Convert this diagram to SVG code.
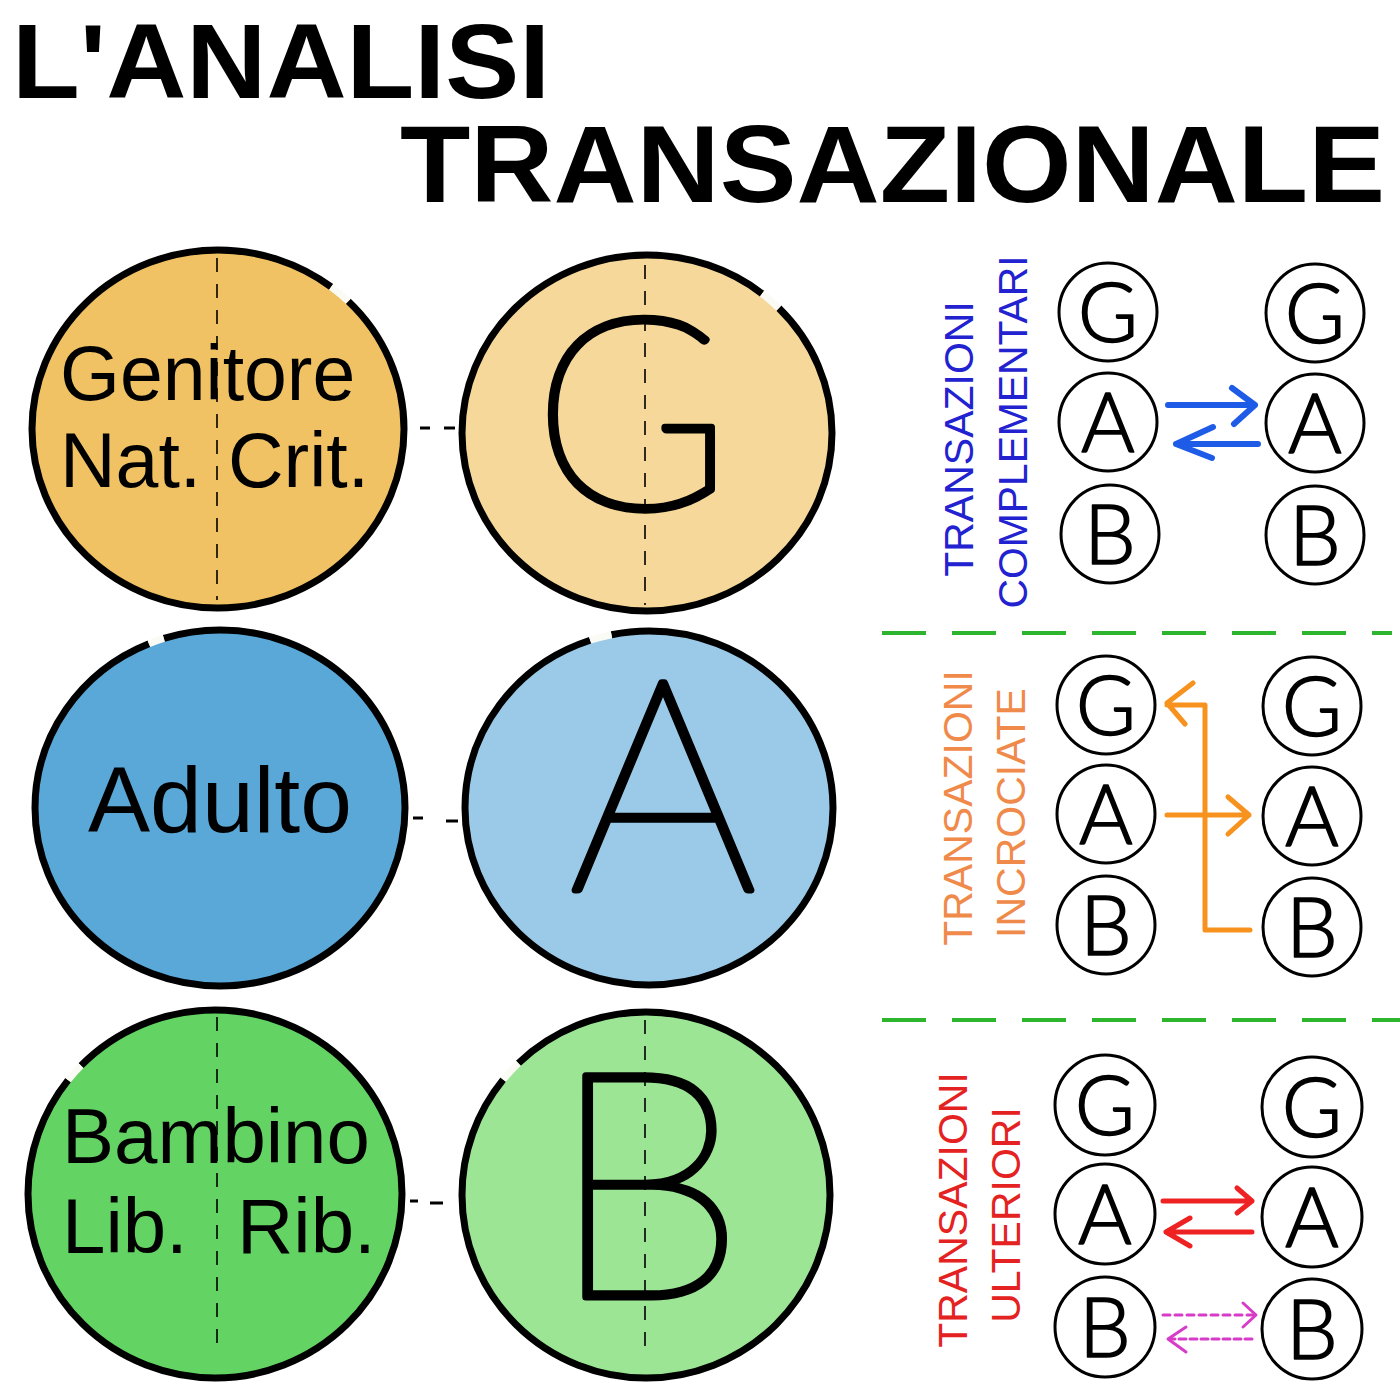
<svg xmlns="http://www.w3.org/2000/svg" width="1400" height="1400" viewBox="0 0 1400 1400">
<style>
.title{font-family:"Liberation Sans",Arial,sans-serif;font-weight:bold;fill:#000}
.lbl{font-family:"Liberation Sans",Arial,sans-serif;fill:#000}
.big{font-family:Lato,Inter,"DejaVu Sans",sans-serif;font-weight:200;fill:#000;stroke:#000;stroke-width:7;stroke-linejoin:round;text-anchor:middle}
.sm{font-family:Lato,Inter,"DejaVu Sans",sans-serif;font-weight:300;font-size:82px;fill:#000;stroke:#000;stroke-width:1.6;stroke-linejoin:round;text-anchor:middle}
.ring{stroke:#000;stroke-width:7}
.gap{fill:none;stroke:#fbfbf6;stroke-width:7}
.vd{stroke:#000;stroke-width:1.6;stroke-dasharray:14 12;fill:none}
.sc{fill:#fff;stroke:#000;stroke-width:3}
.vt{font-family:"Liberation Sans",Arial,sans-serif;font-size:41px;text-anchor:middle}
.sep{stroke:#2db52d;stroke-width:4;stroke-dasharray:44 26;fill:none}
.ar{fill:none;stroke-linecap:round;stroke-linejoin:round}
</style>
<rect width="1400" height="1400" fill="#fff"/>
<g id="title">
<text class="title" x="12" y="98" font-size="106" textLength="538" lengthAdjust="spacingAndGlyphs">L'ANALISI</text>
<text class="title" x="400" y="202" font-size="110" textLength="985" lengthAdjust="spacingAndGlyphs">TRANSAZIONALE</text>
</g>
<g id="genitore">
<ellipse cx="218" cy="429" rx="186" ry="179" fill="#f0c264" class="ring" pathLength="360" stroke-dasharray="308 7 45"/>
<ellipse cx="218" cy="429" rx="186" ry="179" class="gap" pathLength="360" stroke-dasharray="0 308 7 45"/>
<line class="vd" x1="217" y1="258" x2="217" y2="600"/>
<text class="lbl" x="60" y="400" font-size="77">Genitore</text>
<text class="lbl" x="60" y="487" font-size="77">Nat.</text>
<text class="lbl" x="228" y="487" font-size="77">Crit.</text>
</g>
<g id="G-big">
<ellipse cx="647" cy="433" rx="185" ry="178" fill="#f5d89a" class="ring" pathLength="360" stroke-dasharray="309 7 44"/>
<ellipse cx="647" cy="433" rx="185" ry="178" class="gap" pathLength="360" stroke-dasharray="0 309 7 44"/>
<line class="vd" x1="645" y1="265" x2="645" y2="605"/>
<text class="big" x="632" y="508" font-size="268">G</text>
</g>
<g id="adulto">
<ellipse cx="220" cy="808" rx="185" ry="178" fill="#5aa8d8" class="ring" pathLength="360" stroke-dasharray="247 5 108"/>
<ellipse cx="220" cy="808" rx="185" ry="178" class="gap" pathLength="360" stroke-dasharray="0 247 5 108"/>
<text class="lbl" x="88" y="832" font-size="92" textLength="264" lengthAdjust="spacingAndGlyphs">Adulto</text>
</g>
<g id="A-big">
<ellipse cx="649" cy="808" rx="184" ry="177" fill="#9acae8" class="ring" pathLength="360" stroke-dasharray="251 7 102"/>
<ellipse cx="649" cy="808" rx="184" ry="177" class="gap" pathLength="360" stroke-dasharray="0 251 7 102"/>
<text class="big" x="663" y="890" font-size="296">A</text>
</g>
<g id="bambino">
<ellipse cx="215" cy="1194" rx="187" ry="184" fill="#63d463" class="ring" pathLength="360" stroke-dasharray="218 6 136"/>
<ellipse cx="215" cy="1194" rx="187" ry="184" class="gap" pathLength="360" stroke-dasharray="0 218 6 136"/>
<line class="vd" x1="217" y1="1017" x2="217" y2="1343"/>
<text class="lbl" x="62" y="1163" font-size="78">Bambino</text>
<text class="lbl" x="62" y="1253" font-size="78">Lib.</text>
<text class="lbl" x="237" y="1253" font-size="78">Rib.</text>
</g>
<g id="B-big">
<ellipse cx="646" cy="1195" rx="184" ry="183" fill="#9be595" class="ring" pathLength="360" stroke-dasharray="219 7 134"/>
<ellipse cx="646" cy="1195" rx="184" ry="183" class="gap" pathLength="360" stroke-dasharray="0 219 7 134"/>
<line class="vd" x1="645" y1="1020" x2="645" y2="1347"/>
<text class="big" x="647" y="1297" font-size="316">B</text>
</g>
<g id="sec1">
<text class="vt" fill="#2222d0" transform="translate(973,439) rotate(-90)">TRANSAZIONI</text>
<text class="vt" fill="#2222d0" transform="translate(1027,432) rotate(-90)" textLength="353" lengthAdjust="spacingAndGlyphs">COMPLEMENTARI</text>
<circle class="sc" cx="1108" cy="312" r="49"/><text class="sm" x="1108" y="342">G</text>
<circle class="sc" cx="1108" cy="422" r="49"/><text class="sm" x="1108" y="452">A</text>
<circle class="sc" cx="1110" cy="534" r="49"/><text class="sm" x="1110" y="564">B</text>
<circle class="sc" cx="1315" cy="313" r="49"/><text class="sm" x="1315" y="343">G</text>
<circle class="sc" cx="1315" cy="423" r="49"/><text class="sm" x="1315" y="453">A</text>
<circle class="sc" cx="1315" cy="535" r="49"/><text class="sm" x="1315" y="565">B</text>
</g>
<g id="sec2">
<text class="vt" fill="#f08a4b" transform="translate(972,808) rotate(-90)">TRANSAZIONI</text>
<text class="vt" fill="#f08a4b" transform="translate(1025,813) rotate(-90)">INCROCIATE</text>
<circle class="sc" cx="1106" cy="705" r="49"/><text class="sm" x="1106" y="735">G</text>
<circle class="sc" cx="1106" cy="814" r="49"/><text class="sm" x="1106" y="844">A</text>
<circle class="sc" cx="1106" cy="925" r="49"/><text class="sm" x="1106" y="955">B</text>
<circle class="sc" cx="1312" cy="706" r="49"/><text class="sm" x="1312" y="736">G</text>
<circle class="sc" cx="1312" cy="816" r="49"/><text class="sm" x="1312" y="846">A</text>
<circle class="sc" cx="1312" cy="927" r="49"/><text class="sm" x="1312" y="957">B</text>
</g>
<g id="sec3">
<text class="vt" fill="#e52222" transform="translate(967,1210) rotate(-90)">TRANSAZIONI</text>
<text class="vt" fill="#e52222" transform="translate(1020,1215) rotate(-90)">ULTERIORI</text>
<circle class="sc" cx="1105" cy="1105" r="50"/><text class="sm" x="1105" y="1135">G</text>
<circle class="sc" cx="1105" cy="1214" r="50"/><text class="sm" x="1105" y="1244">A</text>
<circle class="sc" cx="1105" cy="1327" r="50"/><text class="sm" x="1105" y="1357">B</text>
<circle class="sc" cx="1312" cy="1107" r="50"/><text class="sm" x="1312" y="1137">G</text>
<circle class="sc" cx="1312" cy="1217" r="50"/><text class="sm" x="1312" y="1247">A</text>
<circle class="sc" cx="1312" cy="1329" r="50"/><text class="sm" x="1312" y="1359">B</text>
</g>
<g id="connectors">
<path d="M420 428 h10 M444 428 h11" stroke="#000" stroke-width="3" fill="none"/>
<path d="M413 818 h10 M446 821 h12" stroke="#000" stroke-width="3" fill="none"/>
<path d="M410 1201 h8 M430 1203 h13" stroke="#000" stroke-width="3" fill="none"/>
<line class="sep" x1="882" y1="633" x2="1392" y2="633"/>
<line class="sep" x1="882" y1="1020" x2="1400" y2="1020"/>
<g stroke="#1e5ce8" stroke-width="6" class="ar">
<path d="M1168 405 H1255 M1232 388 L1255 405 L1234 424"/>
<path d="M1258 444 H1176 M1213 427 L1176 444 L1212 458"/>
</g>
<g stroke="#f7921e" stroke-width="5" class="ar">
<path d="M1250 930 H1205 V705 H1167 M1193 683 L1167 703 L1185 724"/>
<path d="M1167 815 H1249 M1228 797 L1249 815 L1228 834"/>
</g>
<g stroke="#ee2222" stroke-width="5" class="ar">
<path d="M1163 1201 H1252 M1237 1188 L1252 1201 L1237 1213"/>
<path d="M1252 1232 H1166 M1190 1218 L1166 1232 L1190 1246"/>
</g>
<g stroke="#d63cc8" stroke-width="3" class="ar">
<path d="M1163 1315 H1254" stroke-dasharray="7 5"/>
<path d="M1243 1303 L1256 1315 L1243 1327"/>
<path d="M1252 1339 H1170" stroke-dasharray="7 4"/>
<path d="M1186 1327 L1168 1339 L1186 1352"/>
</g>
</g>
</svg>
